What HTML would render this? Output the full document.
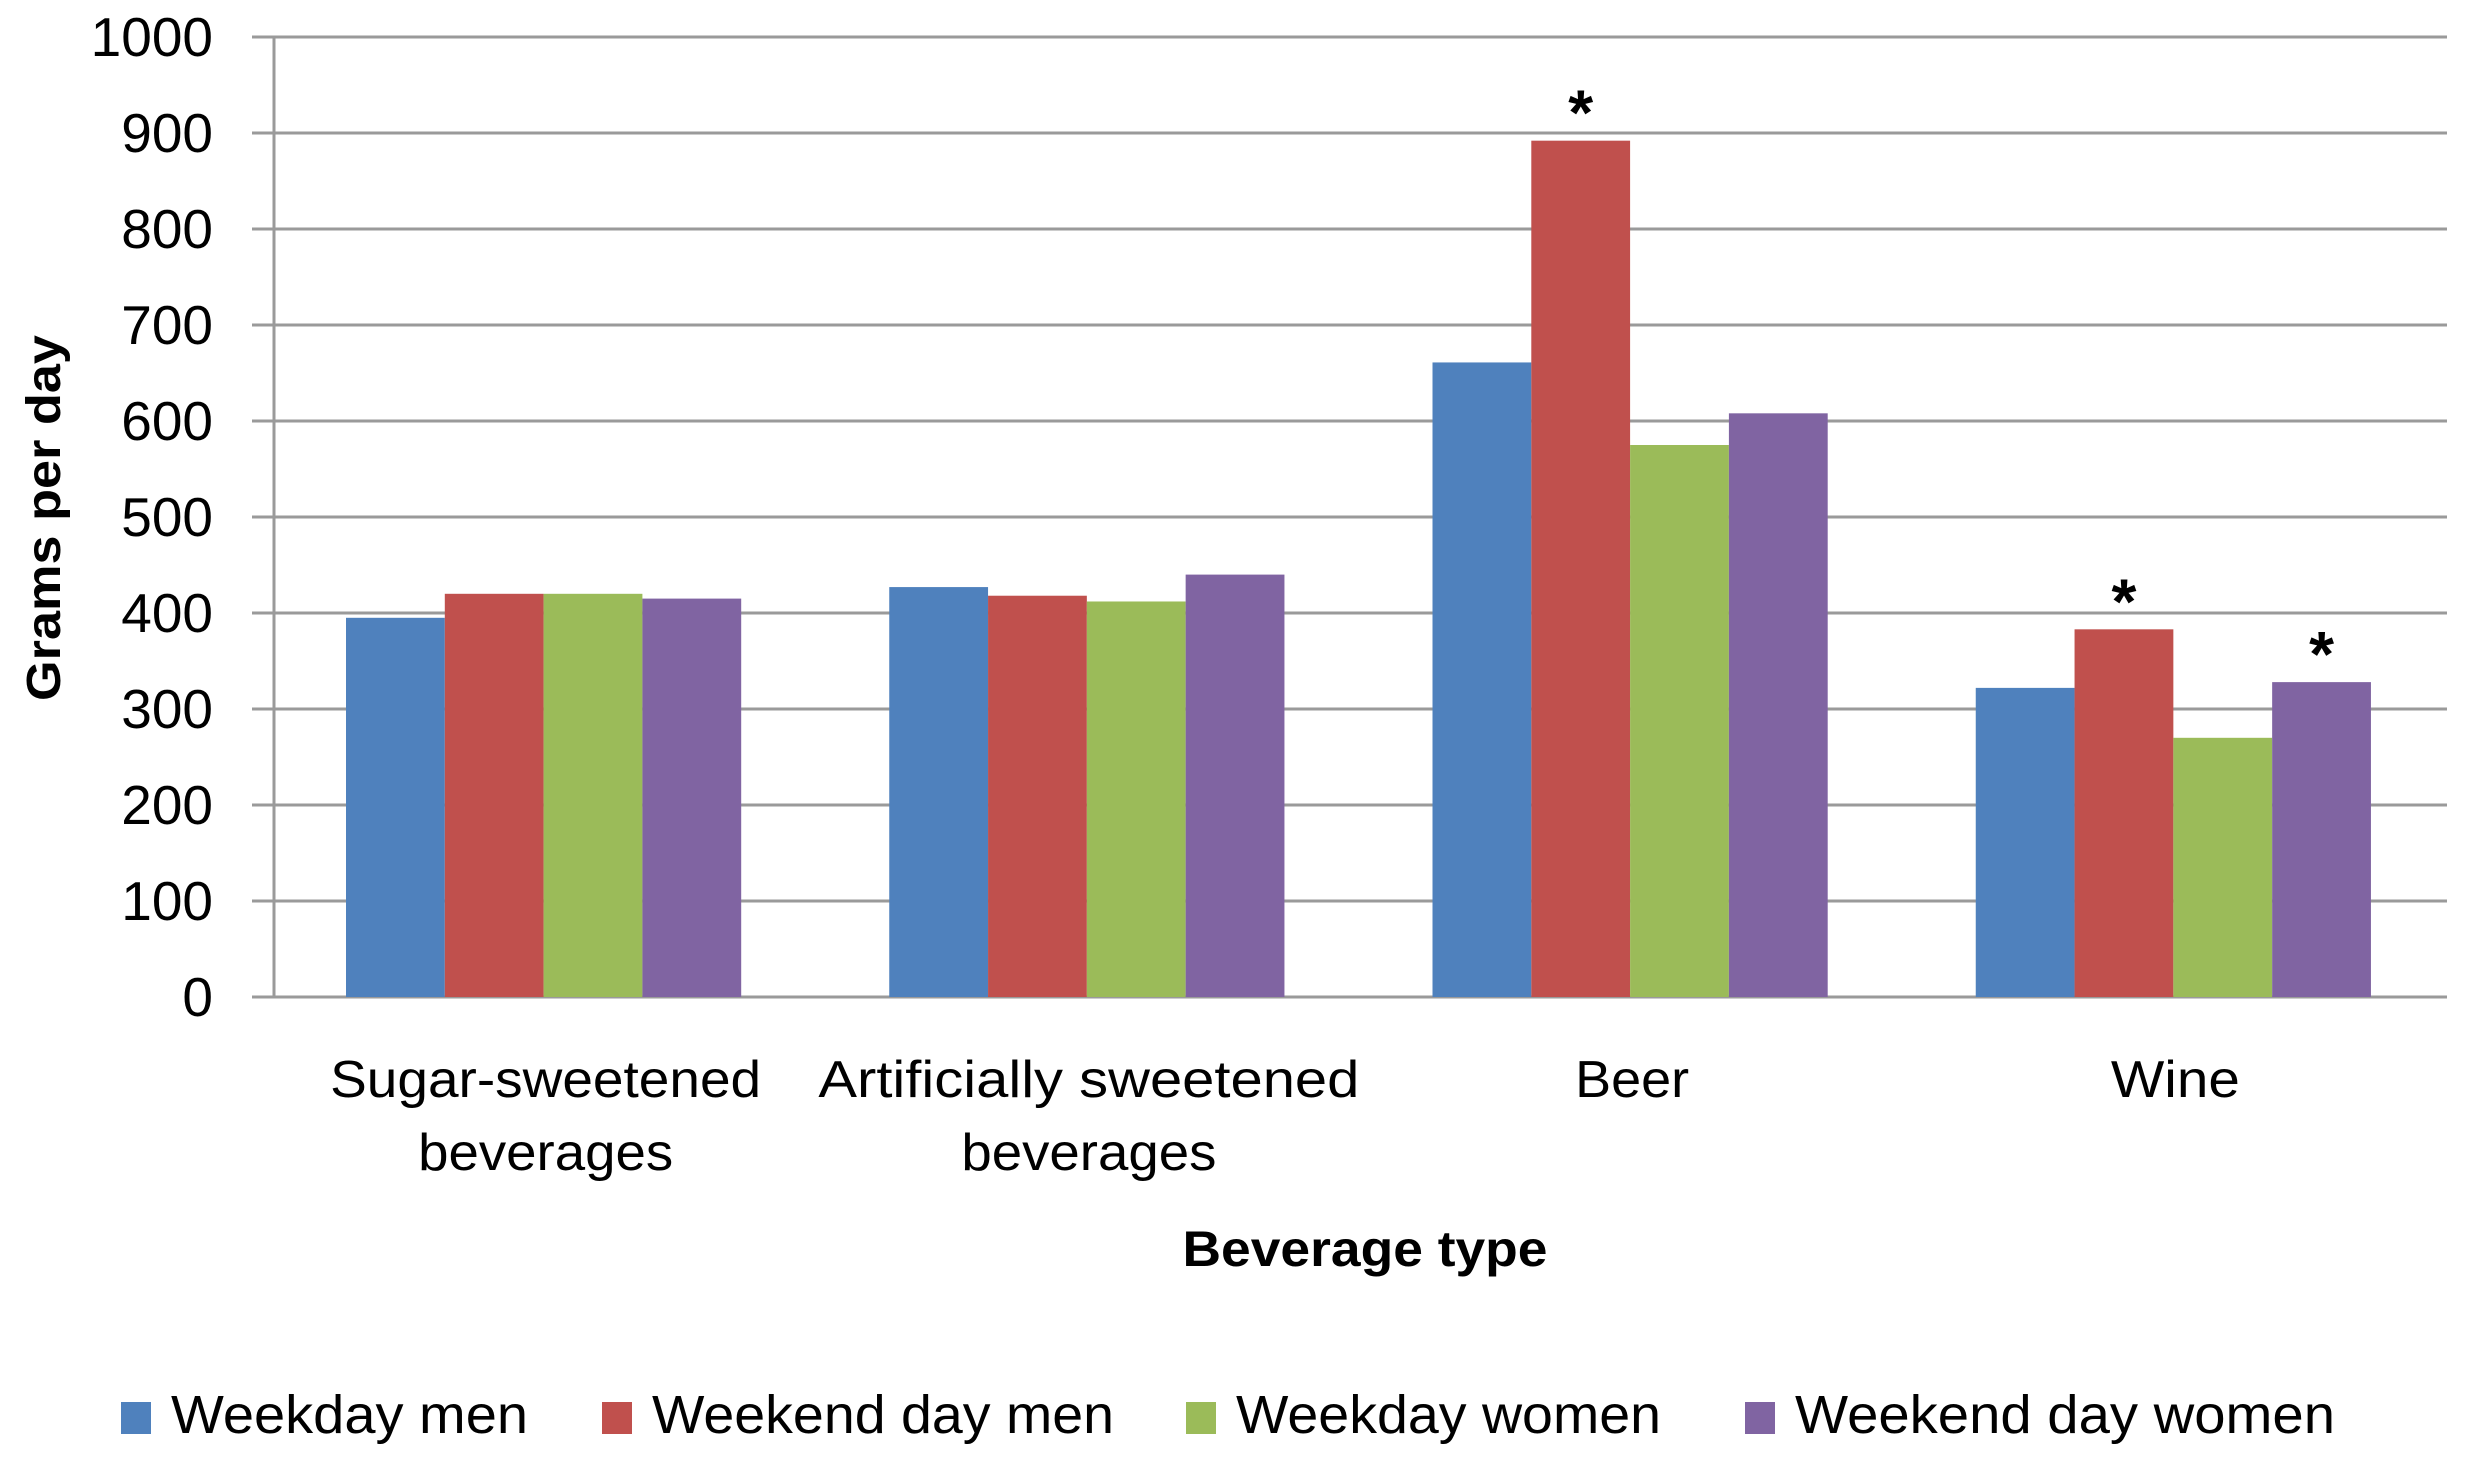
<!DOCTYPE html>
<html><head><meta charset="utf-8"><style>
html,body{margin:0;padding:0;background:#fff;}
svg{display:block;font-family:"Liberation Sans",sans-serif;}
</style></head><body>
<svg id="chart" width="2466" height="1459" viewBox="0 0 2466 1459" xmlns="http://www.w3.org/2000/svg">
<g id="grid"></g>
<g id="bars"></g>
<g id="yticks"></g>
<g id="xlabels"></g>
<text transform="translate(60,518) rotate(-90)" text-anchor="middle" font-size="48" font-weight="bold" fill="#000" textLength="366" lengthAdjust="spacingAndGlyphs">Grams per day</text>
<text x="1365" y="1266" text-anchor="middle" font-size="50" font-weight="bold" fill="#000" textLength="365" lengthAdjust="spacingAndGlyphs">Beverage type</text>
<g id="legend"></g>
</svg>
<script>
const categories = [["Sugar-sweetened","beverages"],["Artificially sweetened","beverages"],["Beer"],["Wine"]];
const seriesNames = ["Weekday men","Weekend day men","Weekday women","Weekend day women"];
const weekdayMen = [395, 427, 661, 322];
const weekendMen = [420, 418, 892, 383];
const weekdayWomen = [420, 412, 575, 270];
const weekendWomen = [415, 440, 608, 328];
const significant = [[false,false,false,false],[false,false,false,false],[false,true,false,false],[false,true,false,true]];
const yTicks = [0,100,200,300,400,500,600,700,800,900,1000];

const colors = ["#4f81bd","#c0504d","#9bbb59","#8064a2"];
const labelWidths = [[431,255],[541,255],[114],[129]];
const series = [weekdayMen, weekendMen, weekdayWomen, weekendWomen];
const NS = "http://www.w3.org/2000/svg";
const plotL = 274, plotR = 2447, y0 = 997, y1000 = 37;
const catW = (plotR - plotL) / categories.length;
const barW = 98.8, groupOff = 72;
function y(v){ return y0 - (v/1000)*(y0-y1000); }
function xBar(c, s){ return plotL + c*catW + groupOff + s*barW; }
function mk(tag, attrs, parent){ const e=document.createElementNS(NS,tag); for(const k in attrs) e.setAttribute(k,attrs[k]); parent.appendChild(e); return e; }

const grid = document.getElementById('grid');
yTicks.forEach(t=>{
  const l = mk('line',{x1:252,x2:plotR,y1:y(t),y2:y(t),stroke:'#9a9a9a','stroke-width':3},grid);
  
  
  const tx = mk('text',{x:213,y:y(t)+19,'text-anchor':'end','font-size':55,fill:'#000'},document.getElementById('yticks'));
  tx.textContent = t;
  
  
});
const ax = mk('line',{x1:plotL,x2:plotL,y1:y1000,y2:y0,stroke:'#9a9a9a','stroke-width':3},grid);



const bars = document.getElementById('bars');
categories.forEach((cat,c)=>{
  series.forEach((vals,s)=>{
    const r = mk('rect',{x:xBar(c,s),y:y(vals[c]),width:barW,height:y0-y(vals[c]),fill:colors[s]},bars);
    
    
    if(significant[c][s]){
      const a = mk('text',{x:xBar(c,s)+barW/2,y:y(vals[c])-6,'text-anchor':'middle','font-size':64,'font-weight':'bold',fill:'#000'},bars);
      a.textContent='*';
      
      
    }
  });
  const cx = plotL + c*catW + catW/2;
  cat.forEach((line,i)=>{
    const t = mk('text',{x:cx,y:1097+i*73,'text-anchor':'middle','font-size':52,fill:'#000',textLength:labelWidths[c][i],lengthAdjust:'spacingAndGlyphs'},document.getElementById('xlabels'));
    t.textContent = line;
    
    
  });
});
const base = mk('line',{x1:252,x2:plotR,y1:y0,y2:y0,stroke:'#9a9a9a','stroke-width':3},grid);



const legend = document.getElementById('legend');
const lgX = [121, 602, 1186, 1745];
const lgW = [357, 462, 425, 540];
seriesNames.forEach((n,i)=>{
  const sq = mk('rect',{x:lgX[i],y:1402,width:30,height:32,fill:colors[i]},legend);
  
  
  const t = mk('text',{x:lgX[i]+50,y:1433,'font-size':54,fill:'#000',textLength:lgW[i],lengthAdjust:'spacingAndGlyphs'},legend);
  t.textContent = n;
  
  
});
</script>
</body></html>
